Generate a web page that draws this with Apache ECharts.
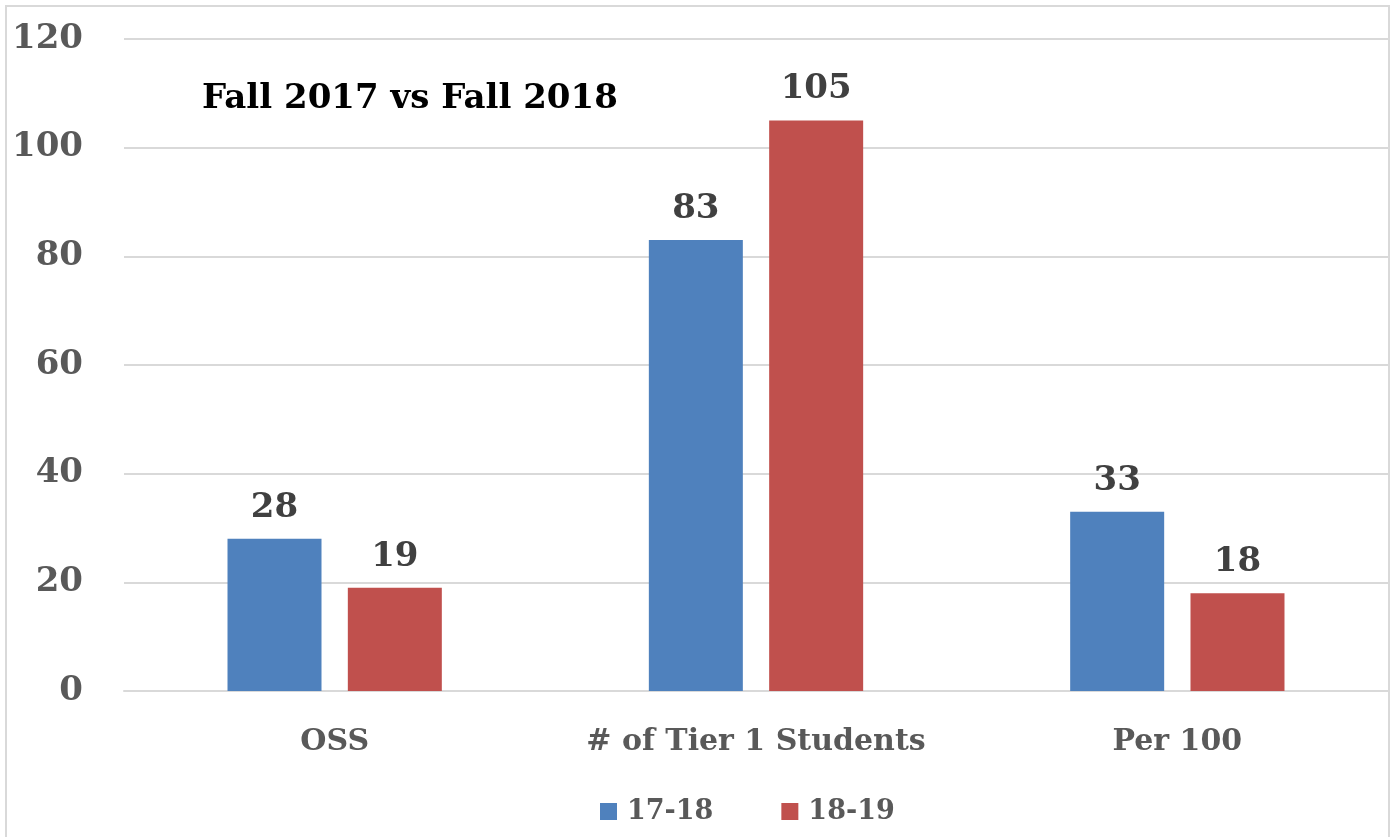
<!DOCTYPE html>
<html style="height: 100%">
<head>
    <meta charset="utf-8">
    <script src="https://cdn.jsdelivr.net/npm/echarts@6/dist/echarts.min.js"></script>
    <title>Fall 2017 vs Fall 2018</title>
</head>
<body style="height: 100%; margin: 0; background: #fff">
<div id="container" style="box-sizing: border-box; border: 2px solid #d9d9d9; border-bottom: none; margin: 5px 5px 0 5px; height: calc(100% - 5px)"></div>
<script type="text/javascript">
    let categories = ['OSS', '# of Tier 1 Students', 'Per 100']
    let series1718 = [28, 83, 33]
    let series1819 = [19, 105, 18]
    let yTicks = {min: 0, max: 120, interval: 20}

    let font = '"DejaVu Serif", serif'
    let dom = document.getElementById("container")
    let chart = echarts.init(dom)

    let labelStyle = {
        show: true,
        position: 'top',
        distance: 14,
        color: '#404040',
        fontFamily: font,
        fontWeight: 'bold',
        fontSize: 34
    }

    chart.setOption({
        animation: false,
        title: {
            text: 'Fall 2017 vs Fall 2018',
            left: 190,
            top: 70,
            textStyle: {fontFamily: font, fontWeight: 'bold', fontSize: 34, color: '#000'}
        },
        legend: {
            bottom: 7,
            left: 588,
            icon: 'rect',
            itemWidth: 17,
            itemHeight: 17,
            itemGap: 68,
            textStyle: {fontFamily: font, fontWeight: 'bold', fontSize: 27, color: '#595959', padding: [0, 0, 0, 5]},
            data: ['17-18', '18-19']
        },
        grid: {left: 117, right: 0, top: 32, bottom: 146, containLabel: false},
        xAxis: {
            type: 'category',
            data: categories,
            axisLine: {lineStyle: {color: '#d9d9d9', width: 2}},
            axisTick: {show: false},
            axisLabel: {interval: 0, margin: 36, color: '#595959', fontFamily: font, fontWeight: 'bold', fontSize: 30}
        },
        yAxis: {
            type: 'value',
            min: yTicks.min,
            max: yTicks.max,
            interval: yTicks.interval,
            axisLine: {show: false},
            axisTick: {show: false},
            splitLine: {lineStyle: {color: '#d9d9d9', width: 2}},
            axisLabel: {margin: 41, color: '#595959', fontFamily: font, fontWeight: 'bold', fontSize: 34}
        },
        series: [
            {
                name: '17-18',
                type: 'bar',
                data: series1718,
                barWidth: 94,
                barGap: '28%',
                itemStyle: {color: '#4f81bd'},
                label: labelStyle
            },
            {
                name: '18-19',
                type: 'bar',
                data: series1819,
                barWidth: 94,
                itemStyle: {color: '#c0504d'},
                label: labelStyle
            }
        ]
    })
</script>
</body>
</html>
